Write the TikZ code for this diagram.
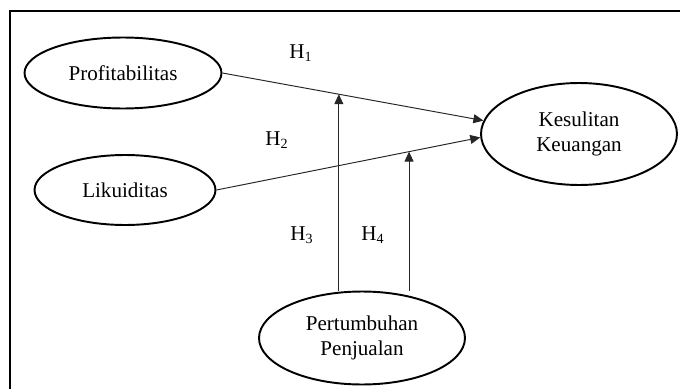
\documentclass[tikz,border=0pt]{standalone}
\usepackage{fontspec}
\setmainfont{Liberation Serif}
\usetikzlibrary{arrows.meta,shapes.geometric}

\begin{document}
\begin{tikzpicture}[x=0.02cm, y=-0.02cm, >={Triangle[length=0.2cm,width=0.18cm]},
    construct/.style={draw, line width=1.1pt, ellipse, align=center, inner sep=0pt, font=\fontsize{12}{14.2}\selectfont},
    hyp/.style={font=\fontsize{12}{14}\selectfont},
    link/.style={->, line width=0.55pt, draw=black!85}]
    \useasboundingbox (0,0) rectangle (680,389);
    % Frame (only top and left edges in view)
    \draw[line width=1pt] (680,11) -- (10,11) -- (10,389);
    % Constructs
    \node[construct, minimum width=3.94cm, minimum height=1.42cm] (prof) at (123,73) {Profitabilitas};
    \node[construct, minimum width=3.62cm, minimum height=1.40cm] (liku) at (125,190) {Likuiditas};
    \node[construct, minimum width=3.92cm, minimum height=2.04cm] (kes) at (579,134) {Kesulitan\\Keuangan};
    \node[construct, minimum width=4.12cm, minimum height=1.86cm] (pert) at (362,338) {Pertumbuhan\\Penjualan};
    % Hypothesis labels
    \node[hyp] (h1) at (301,53) {H\textsubscript{1}};
    \node[hyp] (h2) at (277,140) {H\textsubscript{2}};
    \node[hyp] (h3) at (302,235) {H\textsubscript{3}};
    \node[hyp] (h4) at (373,235) {H\textsubscript{4}};
    % Direct paths
    \draw[link] (prof.east) -- (kes.172) coordinate[pos=0.446] (m1);
    \draw[link] (liku.east) -- (kes.182) coordinate[pos=0.73] (m2);
    % Moderation
    \draw[link] (m1 |- pert.north) -- (m1);
    \draw[link] (m2 |- pert.north) -- (m2);
\end{tikzpicture}
\end{document}
